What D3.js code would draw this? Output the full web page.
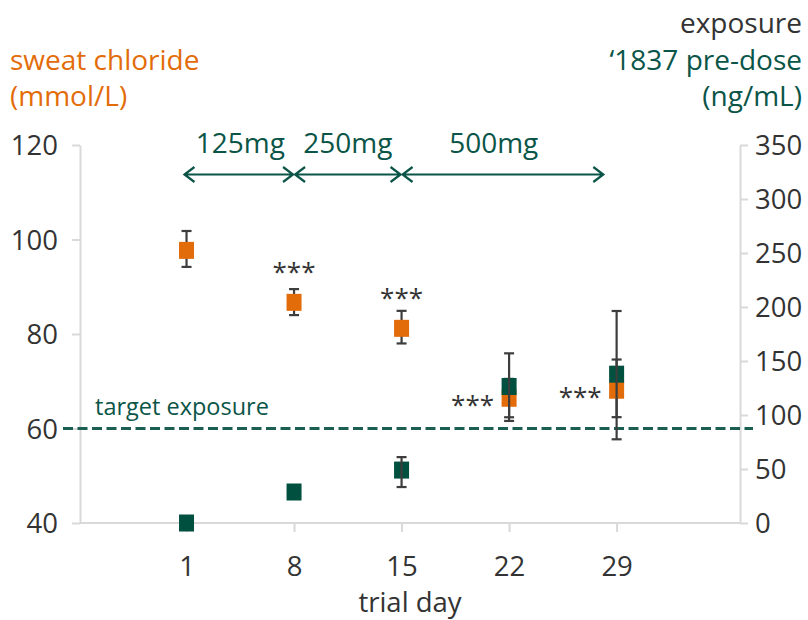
<!DOCTYPE html>
<html>
<head>
<meta charset="utf-8" />
<title>sweat chloride and exposure</title>
<style>
  body { margin: 0; background: #fff; }
  svg text { font-family: "Open Sans", sans-serif; }
  .axis path, .axis line { stroke: #d9d9d9; stroke-width: 2; }
  .axis text { fill: #333; font-size: 27.5px; }
</style>
</head>
<body>
<div id="chart"></div>
<script src="https://cdnjs.cloudflare.com/ajax/libs/d3/7.8.5/d3.min.js"></script>
<script>
// data
var days = [1, 8, 15, 22, 29];
var chloride     = [97.7, 86.7, 81.2, 66.4, 68.1];
var chlorideLow  = [94.2, 84.0, 78.0, 61.6, 62.4];
var chlorideHigh = [101.8, 89.5, 84.9, 70.5, 74.6];
var exposure     = [0, 28.7, 49, 126.4, 137.8];
var exposureLow  = [null, null, 33.3, 97.9, 77.5];
var exposureHigh = [null, null, 61, 157.1, 196.3];

var starDays = [8, 15, 22, 29];
var starSide = ["above", "above", "left", "left"];

var doses = ["125mg", "250mg", "500mg"];
var doseStart = [0.8, 8, 15];
var doseEnd = [8, 15, 28.2];
var doseLabelDay = [4.5, 11.5, 21];

var leftTicks = [40, 60, 80, 100, 120];
var rightTicks = [0, 50, 100, 150, 200, 250, 300, 350];
var targetLevel = 60; // on the left axis

var orange = "#e36c0a", green = "#00503f", textGreen = "#0b5548", barGray = "#3d3d3d";

var width = 808, height = 620;
var svg = d3.select("#chart").append("svg")
    .attr("width", width)
    .attr("height", height);

var x = d3.scaleLinear().domain([-6, 37]).range([79, 739.5]);
var yL = d3.scaleLinear().domain([40, 120]).range([523, 145]);
var yR = d3.scaleLinear().domain([0, 350]).range([523, 145]);

// axes
svg.append("g")
    .attr("class", "axis")
    .attr("transform", "translate(80,0)")
    .call(d3.axisLeft(yL).tickValues(leftTicks).tickSize(8).tickPadding(14).tickSizeOuter(0))
    .selectAll("text").attr("dy", "0.36em");

svg.append("g")
    .attr("class", "axis")
    .attr("transform", "translate(740,0)")
    .call(d3.axisRight(yR).tickValues(rightTicks).tickSize(8).tickPadding(7).tickSizeOuter(0))
    .selectAll("text").attr("dy", "0.36em");

var xAxis = svg.append("g")
    .attr("class", "axis")
    .attr("transform", "translate(0,523)")
    .call(d3.axisBottom(x).tickValues(days).tickSize(9).tickPadding(0).tickSizeOuter(0));
xAxis.select(".domain").attr("d", "M80,0H740");
xAxis.selectAll("text").attr("dy", null).attr("y", 53);

// axis titles
function title(lines, xPos, anchor, colors) {
  lines.forEach(function (t, i) {
    svg.append("text")
      .attr("x", xPos)
      .attr("y", t[1])
      .attr("text-anchor", anchor)
      .attr("fill", colors[i])
      .style("font-size", "28px")
      .text(t[0]);
  });
}
title([["sweat chloride", 70], ["(mmol/L)", 106]], 10, "start", [orange, orange]);
title([["exposure", 33], ["\u20181837 pre-dose", 70], ["(ng/mL)", 106]], 802, "end", ["#333", textGreen, textGreen]);

svg.append("text")
    .attr("x", (80 + 740) / 2)
    .attr("y", 612)
    .attr("text-anchor", "middle")
    .attr("fill", "#333")
    .style("font-size", "27.5px")
    .text("trial day");

// target exposure
svg.append("line")
    .attr("x1", 63).attr("x2", 753)
    .attr("y1", yL(targetLevel)).attr("y2", yL(targetLevel))
    .attr("stroke", "#1b5e52")
    .attr("stroke-width", 3)
    .attr("stroke-dasharray", "10,4.5");

svg.append("text")
    .attr("x", 95)
    .attr("y", yL(targetLevel) - 14)
    .attr("fill", textGreen)
    .style("font-size", "23.5px")
    .text("target exposure");

// dose arrows
var ah = 10, aw = 7.5;
doses.forEach(function (d, i) {
  var x1 = x(doseStart[i]) + 1, x2 = x(doseEnd[i]) - 1, yA = 174.5;
  svg.append("path")
    .attr("d", "M" + x1 + "," + yA + "H" + x2 +
               "M" + (x1 + ah) + "," + (yA - aw) + "L" + x1 + "," + yA + "L" + (x1 + ah) + "," + (yA + aw) +
               "M" + (x2 - ah) + "," + (yA - aw) + "L" + x2 + "," + yA + "L" + (x2 - ah) + "," + (yA + aw))
    .attr("fill", "none")
    .attr("stroke", textGreen)
    .attr("stroke-width", 2.2);
  svg.append("text")
    .attr("x", x(doseLabelDay[i]))
    .attr("y", 153)
    .attr("text-anchor", "middle")
    .attr("fill", textGreen)
    .style("font-size", "28px")
    .text(d);
});

// points
var sqW = 15, sqH = 17, capW = 10;
var pts = days.map(function (d, i) {
  return { day: d, cl: chloride[i], clLo: chlorideLow[i], clHi: chlorideHigh[i],
           ex: exposure[i], exLo: exposureLow[i], exHi: exposureHigh[i] };
});

function errorBars(data, lo, hi, y) {
  var g = svg.append("g").attr("stroke", barGray).attr("stroke-width", 2.2);
  data.filter(function (d) { return d[lo] != null; }).forEach(function (d) {
    var cx = x(d.day);
    g.append("line").attr("x1", cx).attr("x2", cx).attr("y1", y(d[lo])).attr("y2", y(d[hi]));
    [d[lo], d[hi]].forEach(function (v) {
      g.append("line").attr("x1", cx - capW / 2).attr("x2", cx + capW / 2).attr("y1", y(v)).attr("y2", y(v));
    });
  });
}

errorBars(pts, "clLo", "clHi", yL);

svg.append("g").selectAll("rect")
  .data(pts).join("rect")
    .attr("x", function (d) { return x(d.day) - sqW / 2; })
    .attr("y", function (d) { return yL(d.cl) - sqH / 2; })
    .attr("width", sqW).attr("height", sqH)
    .attr("fill", orange);

svg.append("g").selectAll("rect")
  .data(pts).join("rect")
    .attr("x", function (d) { return x(d.day) - sqW / 2; })
    .attr("y", function (d) { return yR(d.ex) - sqH / 2; })
    .attr("width", sqW).attr("height", sqH)
    .attr("fill", green);

errorBars(pts, "exLo", "exHi", yR);

// significance stars
starDays.forEach(function (d, i) {
  var p = pts[days.indexOf(d)];
  var t = svg.append("text")
    .attr("fill", "#333")
    .style("font-size", "26px")
    .text("***");
  if (starSide[i] === "above") {
    t.attr("x", x(d)).attr("y", yL(p.cl) - 35 + 14).attr("text-anchor", "middle");
  } else {
    t.attr("x", x(d) - 15).attr("y", yL(p.cl) + 2 + 14).attr("text-anchor", "end");
  }
});
</script>
</body>
</html>
